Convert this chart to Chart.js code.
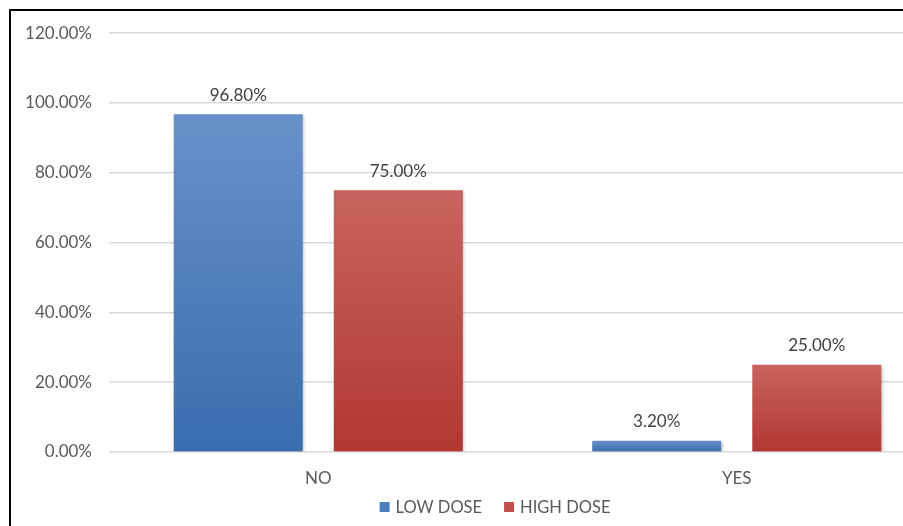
<!DOCTYPE html>
<html>
<head>
<meta charset="utf-8">
<script src="https://cdn.jsdelivr.net/npm/chart.js@4.4.1/dist/chart.umd.min.js"></script>
<style>
  html, body { margin: 0; padding: 0; background: #fff; overflow: hidden; width: 903px; height: 526px; }
  #frame { position: absolute; left: 9px; top: 9px; width: 990px; height: 540px;
           border-top: 2px solid #000; border-left: 2px solid #000; background: #fff; }
  #wrap { position: absolute; left: 0; top: -5px; width: 968px; height: 520px; }
</style>
</head>
<body>
<div id="frame"><div id="wrap"><canvas id="c"></canvas></div></div>
<script>
const categories = ["NO", "YES"];
const seriesNames = ["LOW DOSE", "HIGH DOSE"];
const lowDose = [96.8, 3.2];
const highDose = [75.0, 25.0];
const yMin = 0, yMax = 120, yStep = 20;

const FONT = "Lato, 'Open Sans', sans-serif";
const legendColors = ['#4A7EC0', '#C0504D'];

function barGradient(top, bottom) {
  return function (ctx) {
    const chart = ctx.chart;
    if (!chart.chartArea || ctx.type !== 'data') return bottom;
    const y = chart.scales.y;
    const v = ctx.parsed ? ctx.parsed.y : ctx.raw;
    const yTop = y.getPixelForValue(v);
    const yBot = y.getPixelForValue(0);
    if (!isFinite(yTop) || !isFinite(yBot) || yTop === yBot) return bottom;
    const g = chart.ctx.createLinearGradient(0, yTop, 0, yBot);
    g.addColorStop(0, top);
    g.addColorStop(1, bottom);
    return g;
  };
}

const shadowPlugin = {
  id: 'barShadow',
  beforeDatasetsDraw(chart) {
    const c = chart.ctx;
    c.save();
    c.shadowColor = 'rgba(0,0,0,0.28)';
    c.shadowBlur = 3;
    c.shadowOffsetX = 1.5;
    c.shadowOffsetY = 1;
  },
  afterDatasetsDraw(chart) {
    chart.ctx.restore();
  }
};

const labelPlugin = {
  id: 'barLabels',
  afterDatasetsDraw(chart) {
    const c = chart.ctx;
    c.save();
    c.font = "17px " + FONT;
    c.fillStyle = '#404040';
    c.textAlign = 'center';
    c.textBaseline = 'middle';
    chart.data.datasets.forEach((ds, i) => {
      const meta = chart.getDatasetMeta(i);
      meta.data.forEach((bar, j) => {
        c.fillText(ds.data[j].toFixed(2) + '%', bar.x, bar.y - 19);
      });
    });
    c.restore();
  }
};

const legendPlugin = {
  id: 'bottomLegend',
  afterDraw(chart) {
    const c = chart.ctx;
    c.save();
    c.font = "16.5px " + FONT;
    c.textBaseline = 'middle';
    c.textAlign = 'left';
    const box = 10, gapBoxText = 6, gapItems = 22;
    const items = chart.data.datasets.map((ds, i) => ({
      text: ds.label, color: legendColors[i], w: c.measureText(ds.label).width
    }));
    let total = 0;
    items.forEach((it, i) => { total += box + gapBoxText + it.w + (i ? gapItems : 0); });
    let x = chart.width / 2 - total / 2;
    const y = chart.chartArea.bottom + 55;
    items.forEach((it, i) => {
      if (i) x += gapItems;
      c.fillStyle = it.color;
      c.fillRect(x, y - box / 2, box, box);
      x += box + gapBoxText;
      c.fillStyle = '#595959';
      c.fillText(it.text, x, y + 1);
      x += it.w;
    });
    c.restore();
  }
};

new Chart(document.getElementById('c'), {
  type: 'bar',
  data: {
    labels: categories,
    datasets: [
      { label: seriesNames[0], data: lowDose,
        backgroundColor: barGradient('#6891C9', '#3A6DAF'),
        borderWidth: 0,
        barPercentage: 0.806, categoryPercentage: 0.765 },
      { label: seriesNames[1], data: highDose,
        backgroundColor: barGradient('#C8645F', '#B23732'),
        borderWidth: 0,
        barPercentage: 0.806, categoryPercentage: 0.765 }
    ]
  },
  options: {
    responsive: true,
    maintainAspectRatio: false,
    animation: false,
    devicePixelRatio: 1,
    layout: { padding: { left: 0, right: 33, top: 0, bottom: 38 } },
    plugins: {
      legend: { display: false },
      tooltip: { enabled: false }
    },
    scales: {
      x: {
        grid: { display: false },
        border: { display: false },
        ticks: { font: { family: FONT, size: 17 }, color: '#595959', padding: 8 },
        afterFit(s) { s.height = 36; }
      },
      y: {
        min: yMin, max: yMax,
        ticks: {
          stepSize: yStep,
          font: { family: FONT, size: 17 }, color: '#595959', padding: 17,
          callback: v => v.toFixed(2) + '%'
        },
        grid: { color: '#D9D9D9', lineWidth: 1.5, drawTicks: false },
        border: { display: false },
        afterFit(s) { s.width = 98; }
      }
    }
  },
  plugins: [shadowPlugin, labelPlugin, legendPlugin]
});
</script>
</body>
</html>
